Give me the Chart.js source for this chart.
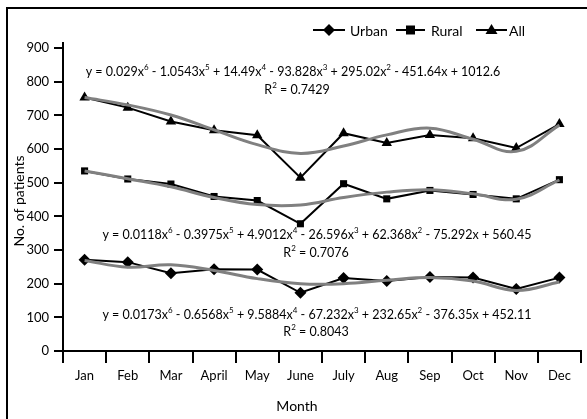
<!DOCTYPE html>
<html>
<head>
<meta charset="utf-8">
<script src="https://cdn.jsdelivr.net/npm/chart.js@4.4.1/dist/chart.umd.min.js"></script>
<style>
  body { margin: 0; background: #fff; }
  #wrap { width: 587px; height: 419px; }
</style>
</head>
<body>
<div id="wrap"><canvas id="chart" width="587" height="419"></canvas></div>
<script>
// values
const months = ['Jan', 'Feb', 'Mar', 'April', 'May', 'June', 'July', 'Aug', 'Sep', 'Oct', 'Nov', 'Dec'];
const urban = [271, 264, 231, 243, 242, 173, 217, 208, 220, 218, 184, 218];
const rural = [535, 511, 496, 459, 447, 378, 497, 452, 477, 465, 452, 509];
const all = [753, 723, 682, 656, 641, 515, 647, 618, 642, 632, 603, 674];

// poly trend lines (grey), read at each month
const urbanTrend = [269, 249, 256, 239, 215, 200, 200, 210, 218, 208, 180, 205];
const ruralTrend = [535, 512, 488, 456, 435, 434, 456, 472, 479, 467, 451, 508];
const allTrend = [753, 731, 701, 657, 613, 587, 609, 642, 662, 629, 593, 671];

const yTicks = [0, 100, 200, 300, 400, 500, 600, 700, 800, 900];

// equation labels: [equation, R2]
const eqAll = ['y = 0.029x^6 - 1.0543x^5 + 14.49x^4 - 93.828x^3 + 295.02x^2 - 451.64x + 1012.6', 'R^2 = 0.7429'];
const eqRural = ['y = 0.0118x^6 - 0.3975x^5 + 4.9012x^4 - 26.596x^3 + 62.368x^2 - 75.292x + 560.45', 'R^2 = 0.7076'];
const eqUrban = ['y = 0.0173x^6 - 0.6568x^5 + 9.5884x^4 - 67.232x^3 + 232.65x^2 - 376.35x + 452.11', 'R^2 = 0.8043'];

const FONT = 'Lato, "DejaVu Sans", sans-serif';

// split "x^6" into normal / superscript pieces
function pieces(str) {
    let out = [];
    let re = /\^(\d)/g, last = 0, m;
    while ((m = re.exec(str)) !== null) {
        out.push([str.slice(last, m.index), false]);
        out.push([m[1], true]);
        last = m.index + 2;
    }
    out.push([str.slice(last), false]);
    return out;
}

function drawSup(ctx, str, cx, cy, size) {
    let parts = pieces(str);
    let big = size + 'px ' + FONT, small = Math.round(size * 0.62) + 'px ' + FONT;
    let w = 0;
    parts.forEach(p => { ctx.font = p[1] ? small : big; w += ctx.measureText(p[0]).width; });
    let x = cx - w / 2;
    ctx.textBaseline = 'middle';
    ctx.textAlign = 'left';
    parts.forEach(p => {
        ctx.font = p[1] ? small : big;
        ctx.fillText(p[0], x, p[1] ? cy - size * 0.35 : cy);
        x += ctx.measureText(p[0]).width;
    });
}

function marker(ctx, type, x, y) {
    ctx.beginPath();
    if (type === 'diamond') {
        ctx.moveTo(x, y - 6); ctx.lineTo(x + 6, y); ctx.lineTo(x, y + 6); ctx.lineTo(x - 6, y);
    } else if (type === 'square') {
        ctx.rect(x - 4.5, y - 4.5, 9, 9);
    } else {
        ctx.moveTo(x, y - 6); ctx.lineTo(x + 6, y + 4); ctx.lineTo(x - 6, y + 4);
    }
    ctx.closePath();
    ctx.fill();
}

const extras = {
    id: 'extras',
    afterDraw(chart) {
        let ctx = chart.ctx;
        ctx.save();
        ctx.fillStyle = '#000';
        ctx.strokeStyle = '#000';

        // frame
        ctx.lineWidth = 2;
        ctx.strokeRect(7, 8, 640, 480);

        // legend
        let items = [['diamond', 'Urban', 313, 345, 350], ['square', 'Rural', 396, 425, 431], ['triangle', 'All', 476, 507, 509]];
        items.forEach(it => {
            ctx.beginPath();
            ctx.moveTo(it[2], 30); ctx.lineTo(it[3], 30);
            ctx.stroke();
            marker(ctx, it[0], (it[2] + it[3]) / 2, 30);
            ctx.font = '14px ' + FONT;
            ctx.textAlign = 'left';
            ctx.textBaseline = 'middle';
            ctx.fillText(it[1], it[4], 31);
        });

        // equations
        drawSup(ctx, eqAll[0], 293, 72, 12.5);
        drawSup(ctx, eqAll[1], 297, 90, 12.5);
        drawSup(ctx, eqRural[0], 317, 235, 12.5);
        drawSup(ctx, eqRural[1], 316, 253, 12.5);
        drawSup(ctx, eqUrban[0], 317, 315, 12.5);
        drawSup(ctx, eqUrban[1], 316, 332, 12.5);

        // axis titles
        ctx.font = '14px ' + FONT;
        ctx.textAlign = 'center';
        ctx.textBaseline = 'middle';
        ctx.fillText('Month', 297, 406);
        ctx.translate(19, 201);
        ctx.rotate(-Math.PI / 2);
        ctx.fillText('No. of patients', 0, 0);
        ctx.restore();
    }
};

function series(data, style, radius) {
    return {
        data: data,
        borderColor: '#000',
        backgroundColor: '#000',
        borderWidth: 2,
        pointStyle: style,
        pointRadius: radius,
        pointBorderWidth: 0,
        tension: 0,
        order: 1
    };
}

function trend(data) {
    return {
        data: data,
        borderColor: '#808080',
        borderWidth: 3,
        pointRadius: 0,
        tension: 0.4,
        order: 0
    };
}

let ctx = document.getElementById('chart').getContext('2d');
let chart = new Chart(ctx, {
    type: 'line',
    data: {
        labels: months,
        datasets: [
            series(urban, 'rectRot', 6),
            series(rural, 'rect', 5),
            series(all, 'triangle', 6),
            trend(urbanTrend),
            trend(ruralTrend),
            trend(allTrend)
        ]
    },
    options: {
        responsive: false,
        animation: false,
        devicePixelRatio: 1,
        layout: { padding: { left: 0, top: 43, right: 4, bottom: 0 } },
        plugins: { legend: { display: false }, tooltip: { enabled: false } },
        scales: {
            x: {
                offset: true,
                afterFit: s => { s.height = 68; },
                grid: {
                    offset: true,
                    drawOnChartArea: false,
                    drawTicks: true,
                    tickLength: 12,
                    lineWidth: 2,
                    color: c => (c.index === 12 ? 'rgba(0,0,0,0)' : '#000')
                },
                border: { color: '#000', width: 2 },
                ticks: { color: '#000', padding: 5, maxRotation: 0, font: { family: FONT, size: 13 } }
            },
            y: {
                min: 0,
                max: 915,
                afterFit: s => { s.width = 63; },
                afterBuildTicks: s => { s.ticks = yTicks.map(v => ({ value: v })); },
                grid: {
                    drawOnChartArea: false,
                    drawTicks: true,
                    tickLength: 9,
                    lineWidth: 2,
                    color: '#000'
                },
                border: { color: '#000', width: 2 },
                ticks: { color: '#000', padding: 5, font: { family: FONT, size: 13 } }
            }
        }
    },
    plugins: [extras]
});
</script>
</body>
</html>
